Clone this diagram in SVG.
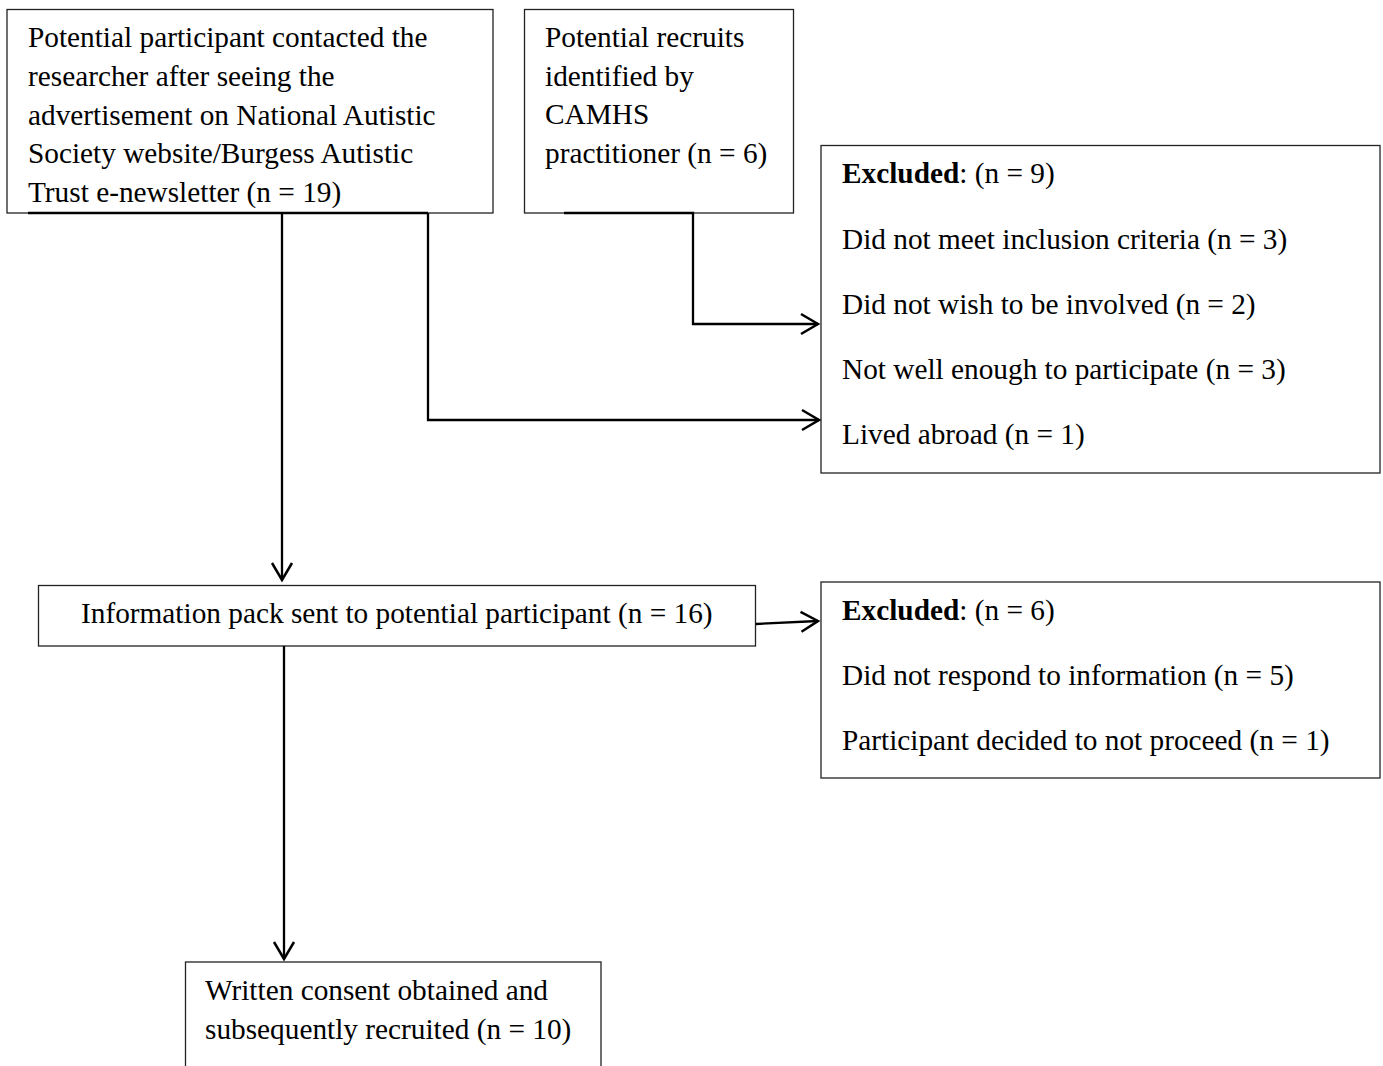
<svg xmlns="http://www.w3.org/2000/svg" width="1383" height="1066" viewBox="0 0 1383 1066">
<style>
.box{fill:#fff;stroke:#222;stroke-width:1.3}
.t{font-family:"Liberation Serif","Times New Roman",serif;font-size:29.3px;fill:#000}
.b{font-weight:bold}
.c{fill:none;stroke:#000;stroke-width:2.3}
</style>
<defs>
<marker id="arr" markerUnits="userSpaceOnUse" markerWidth="24" markerHeight="24" viewBox="-20 -12 24 24" refX="0" refY="0" orient="auto">
<path d="M-17,-10 L0,0 L-17,10" fill="none" stroke="#000" stroke-width="2.5"/>
</marker>
</defs>
<g id="n1">
<rect class="box" x="7" y="9.5" width="486" height="203.5"/>
<text class="t" x="28" y="47">Potential participant contacted the</text>
<text class="t" x="28" y="86">researcher after seeing the</text>
<text class="t" x="28" y="124.5">advertisement on National Autistic</text>
<text class="t" x="28" y="163">Society website/Burgess Autistic</text>
<text class="t" x="28" y="201.5">Trust e-newsletter (n = 19)</text>
</g>
<g id="n2">
<rect class="box" x="524.5" y="9.5" width="269" height="203.5"/>
<text class="t" x="545" y="47">Potential recruits</text>
<text class="t" x="545" y="85.5">identified by</text>
<text class="t" x="545" y="124">CAMHS</text>
<text class="t" x="545" y="162.5">practitioner (n = 6)</text>
</g>
<g id="n3">
<rect class="box" x="821" y="145.5" width="559" height="327.5"/>
<text class="t" x="842" y="183"><tspan class="b">Excluded</tspan>: (n = 9)</text>
<text class="t" x="842" y="248.5">Did not meet inclusion criteria (n = 3)</text>
<text class="t" x="842" y="313.5">Did not wish to be involved (n = 2)</text>
<text class="t" x="842" y="378.5">Not well enough to participate (n = 3)</text>
<text class="t" x="842" y="444">Lived abroad (n = 1)</text>
</g>
<g id="n4">
<rect class="box" x="38.5" y="585.5" width="717" height="60.5"/>
<text class="t" x="81" y="623">Information pack sent to potential participant (n = 16)</text>
</g>
<g id="n5">
<rect class="box" x="821" y="582" width="559" height="196"/>
<text class="t" x="842" y="620"><tspan class="b">Excluded</tspan>: (n = 6)</text>
<text class="t" x="842" y="685">Did not respond to information (n = 5)</text>
<text class="t" x="842" y="750">Participant decided to not proceed (n = 1)</text>
</g>
<g id="n6">
<rect class="box" x="185.5" y="962" width="415.5" height="120"/>
<text class="t" x="205" y="1000">Written consent obtained and</text>
<text class="t" x="205" y="1039">subsequently recruited (n = 10)</text>
</g>
<g id="connectors">
<path class="c" d="M28,213 H428"/>
<path class="c" d="M282,213 V580" marker-end="url(#arr)"/>
<path class="c" d="M428,213 V420 H819" marker-end="url(#arr)"/>
<path class="c" d="M564,213 H693 V324 H818" marker-end="url(#arr)"/>
<path class="c" d="M756,624 L818,621" marker-end="url(#arr)"/>
<path class="c" d="M284,646 V959" marker-end="url(#arr)"/>
</g>
</svg>
